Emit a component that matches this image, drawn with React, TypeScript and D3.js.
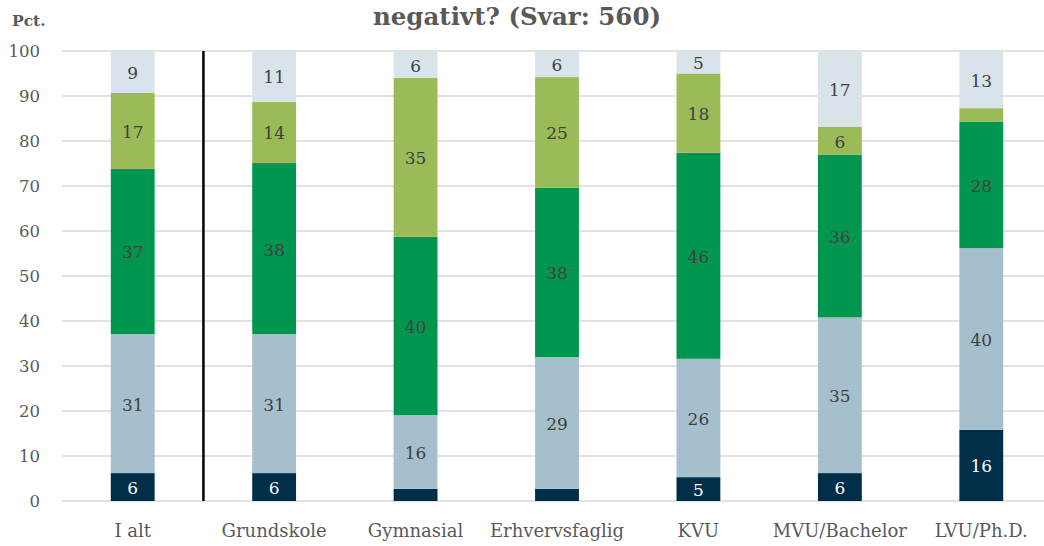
import React from "react";
import * as d3 from "d3";

const categories = ["I alt", "Grundskole", "Gymnasial", "Erhvervsfaglig", "KVU", "MVU/Bachelor", "LVU/Ph.D."];
const seriesNames = ["s1", "s2", "s3", "s4", "s5"];
const s1 = [6.2, 6.2, 2.7, 2.7, 5.3, 6.2, 15.8];
const s2 = [30.9, 30.9, 16.4, 29.3, 26.3, 34.6, 40.4];
const s3 = [36.7, 38.0, 39.6, 37.6, 45.8, 36.2, 28.1];
const s4 = [16.9, 13.6, 35.3, 24.6, 17.6, 6.2, 3.0];
const s5 = [9.3, 11.3, 6.0, 5.8, 5.0, 16.8, 12.7];
const colors = ["#002e48", "#a5bfcd", "#00964f", "#9bbb59", "#d8e3ea"];
const yTicks = [0, 10, 20, 30, 40, 50, 60, 70, 80, 90, 100];

const W = 1044;
const H = 546;
const font = "'DejaVu Serif', 'Liberation Serif', serif";

export default function App() {
  const x = d3.scaleBand().domain(categories).range([62, 1052]).paddingInner(0.69).paddingOuter(0.345);
  const y = d3.scaleLinear().domain([0, 100]).range([501, 51]);

  const table = categories.map((c, i) => ({ cat: c, s1: s1[i], s2: s2[i], s3: s3[i], s4: s4[i], s5: s5[i] }));
  const stack = d3.stack<any>().keys(seriesNames)(table);

  const sepX = 62 + x.step();

  return (
    <div style={{ position: "fixed", left: 0, top: 0 }}>
      <svg width={W} height={H} style={{ display: "block", fontFamily: font }}>
        <rect width={W} height={H} fill="#fff" />
        <text x={517} y={25} textAnchor="middle" fontSize={24.5} fontWeight="bold" fill="#595959">
          negativt? (Svar: 560)
        </text>
        <text x={12} y={26} fontSize={15.5} fontWeight="bold" fill="#595959">Pct.</text>
        {yTicks.map((t) => (
          <g key={t}>
            <line x1={62} x2={W} y1={y(t)} y2={y(t)} stroke="#d9d9d9" strokeWidth={1.5} />
            <text x={40} y={y(t) + 6} textAnchor="end" fontSize={16.5} fill="#595959">{t}</text>
          </g>
        ))}
        {stack.map((layer, si) => (
          <g key={layer.key}>
            {layer.map((d, i) => {
              const v = d[1] - d[0];
              const top = y(d[1]);
              const bot = y(d[0]);
              const cx = (x(categories[i]) as number) + x.bandwidth() / 2;
              return (
                <g key={i}>
                  <rect x={x(categories[i])} y={top} width={x.bandwidth()} height={bot - top} fill={colors[si]} />
                  {v >= 4.5 && (
                    <text x={cx} y={(top + bot) / 2 + 7} textAnchor="middle" fontSize={17}
                      fill={si === 0 ? "#ffffff" : "#404040"}>
                      {Math.round(v)}
                    </text>
                  )}
                </g>
              );
            })}
          </g>
        ))}
        <line x1={sepX} x2={sepX} y1={y(100)} y2={y(0)} stroke="#000" strokeWidth={2.5} />
        {categories.map((c) => (
          <text key={c} x={(x(c) as number) + x.bandwidth() / 2} y={537} textAnchor="middle" fontSize={18} fill="#595959">
            {c}
          </text>
        ))}
      </svg>
    </div>
  );
}
